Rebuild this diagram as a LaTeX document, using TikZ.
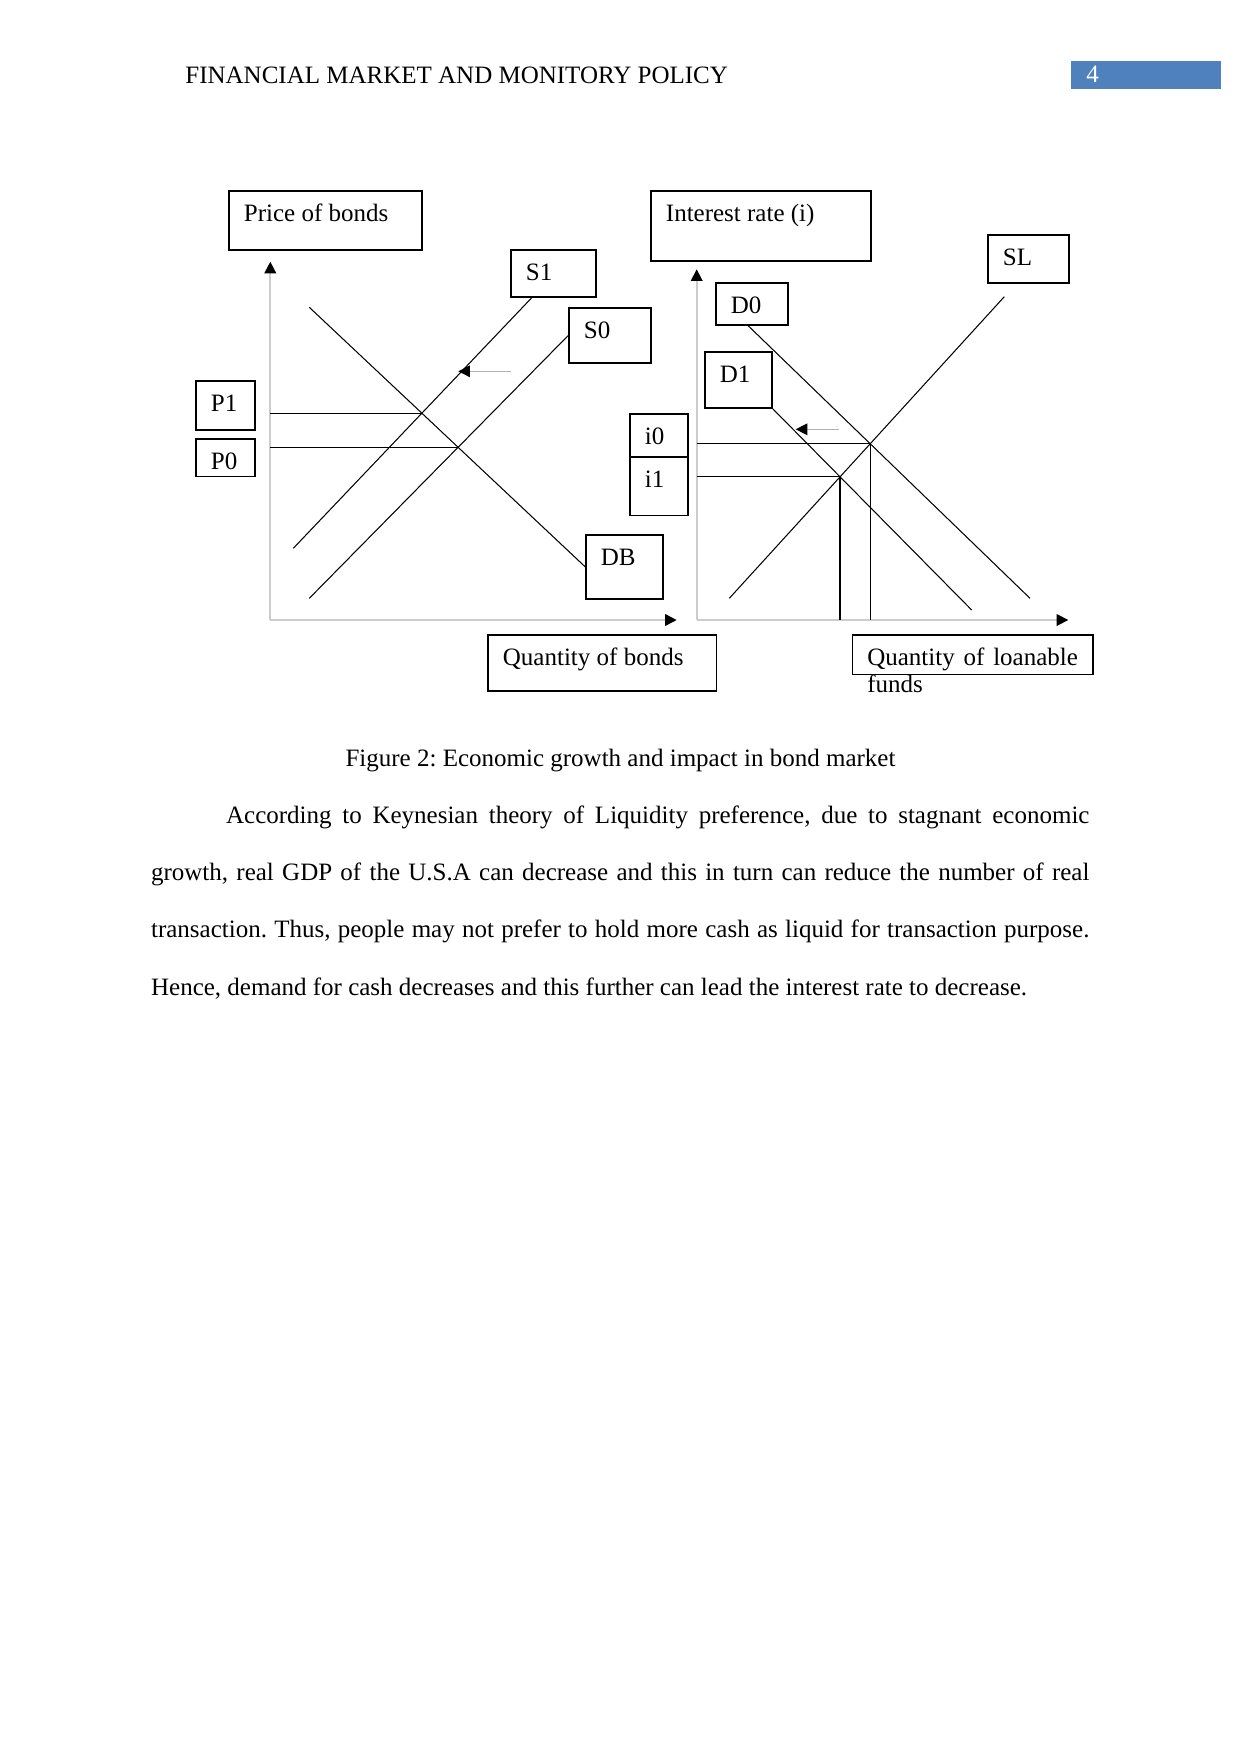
\documentclass[tikz,border=0pt]{standalone}
\usepackage{fontspec}
\setmainfont{Liberation Serif}
\usetikzlibrary{arrows.meta,intersections}
\definecolor{pageblue}{HTML}{4F81BD}

\begin{document}
\begin{tikzpicture}[
  x=0.48pt,
  y=-0.48pt,
  font=\fontsize{12}{13.8}\selectfont\frenchspacing,
  lbox/.style 2 args={
    draw=black,
    line width=0.6pt,
    anchor=north west,
    align=flush left,
    inner xsep=7.2pt,
    inner ysep=0pt,
    text height=14.6pt,
    text width=#1,
    text depth=#2
  },
  pagebox/.style={
    fill=pageblue,
    text=white,
    anchor=north west,
    align=flush left,
    inner xsep=7.2pt,
    inner ysep=0pt,
    text width=57.46pt,
    text height=10.2pt,
    text depth=3.1pt
  },
  schedule/.style={draw=black, line width=0.5pt},
  guide/.style={draw=black, line width=0.6pt},
  axisline/.style={draw=gray!40, line width=0.8pt,
    -{Triangle[length=5.6pt, width=5.6pt, color=black]}},
  shiftarrow/.style={draw=gray!60, line width=0.5pt,
    -{Triangle[length=5.6pt, width=5.6pt, color=black]}},
  txt/.style={inner sep=0pt, anchor=base west}
]
\useasboundingbox (0,0) rectangle (1241,1754);

% page header
\node[txt] (header) at (185,83.3) {FINANCIAL MARKET AND MONITORY POLICY};
\node[pagebox] (pagenum) at (1071,61) {4};

% bond market
\coordinate (o1) at (270.3,620);
\draw[axisline] (o1) -- (270.3,261.7);
\draw[axisline] (o1) -- (676.7,620);

\node[lbox={78.24pt}{13.72pt}] (pb) at (228.3,190.3) {Price of bonds};
\node[lbox={26.4pt}{7.96pt}] (s1) at (510.3,249.3) {S1};
\node[lbox={24.96pt}{11.8pt}] (s0) at (568.3,307.3) {S0};
\node[lbox={13.92pt}{8.92pt}] (p1) at (195.3,380.3) {P1};
\node[lbox={13.92pt}{3.5pt}] (p0) at (195.3,438.3) {P0};
\node[lbox={22.56pt}{16.12pt}] (db) at (585.3,534.3) {DB};
\node[lbox={95.23pt}{12.28pt}] (qb) at (487.3,634.3) {Quantity of bonds};

\coordinate (dbA) at (309.3,307.3);
\coordinate (s1A) at (293.3,548.3);
\coordinate (s1B) at (532.7,296.7);
\coordinate (s0A) at (309.3,598.3);

\draw[schedule, name path=db] (dbA) -- (db.west);
\draw[schedule, name path=s1] (s1A) -- (s1B);
\draw[schedule, name path=s0] (s0A) -- (s0.west);
\path[name intersections={of=db and s1, by=e1}];
\path[name intersections={of=db and s0, by=e0}];
\draw[guide] (e1 -| o1) -- (e1);
\draw[guide] (e0 -| o1) -- (e0);

\coordinate (sh1) at (510.7,371.3);
\draw[shiftarrow] (sh1) -- (458.3,371.3);

% loanable funds market
\coordinate (o2) at (696.7,620);
\draw[axisline] (o2) -- (696.7,269.3);
\draw[axisline] (o2) -- (1068.3,620);

\node[lbox={91.2pt}{19pt}] (ir) at (650.3,190.3) {Interest rate (i)};
\node[lbox={24.48pt}{8.44pt}] (sl) at (987.3,234.3) {SL};
\node[lbox={20.16pt}{5.56pt}] (d0) at (715.3,282.3) {D0};
\node[lbox={17.76pt}{12.28pt}] (d1) at (704.3,351.3) {D1};
\node[lbox={13.44pt}{6.04pt}] (i0) at (629.3,413.3) {i0};
\node[lbox={13.44pt}{13.58pt}] (i1) at (629.3,456.3) {i1};
\node[lbox={101.09pt}{4.46pt}, align=justify,
  font=\fontsize{12}{12.8}\selectfont] (ql) at (851.7,634.3)
  {Quantity of loanable funds};

\coordinate (d0A) at (746.7,324.3);
\coordinate (d0B) at (1030,598.3);
\coordinate (d1B) at (971.7,610);
\coordinate (slA) at (1004.3,296.7);
\coordinate (slB) at (729.3,598.3);

\draw[schedule, name path=d0] (d0A) -- (d0B);
\draw[schedule, name path=d1] (d1.south east) -- (d1B);
\draw[schedule, name path=sl] (slA) -- (slB);
\path[name intersections={of=d0 and sl, by=f0}];
\path[name intersections={of=d1 and sl, by=f1}];
\draw[guide] (f0 -| o2) -- (f0) -- (f0 |- o2);
\draw[guide] (f1 -| o2) -- (f1) -- (f1 |- o2);

\coordinate (sh2) at (839.3,429.3);
\draw[shiftarrow] (sh2) -- (795.7,429.3);

% caption and text
\node[inner sep=0pt, anchor=base] (caption) at (620.5,766)
  {Figure 2: Economic growth and impact in bond market};
\node[txt, text width=450.4pt, align=justify,
  font=\fontsize{12}{27.5}\selectfont\frenchspacing] (body) at (150.7,823.3)
  {\hspace*{36pt}According to Keynesian theory of Liquidity preference, due to stagnant economic\linebreak
   growth, real GDP of the U.S.A can decrease and this in turn can reduce the number of real\linebreak
   transaction. Thus, people may not prefer to hold more cash as liquid for transaction purpose.\linebreak
   Hence, demand for cash decreases and this further can lead the interest rate to decrease.};

\end{tikzpicture}
\end{document}
